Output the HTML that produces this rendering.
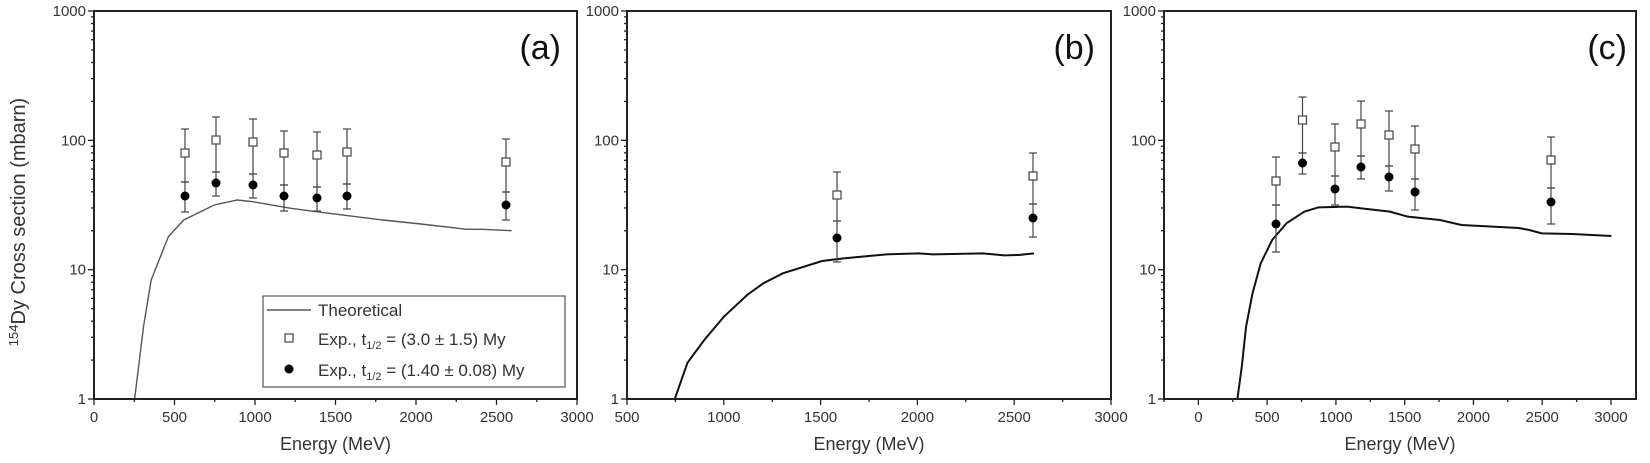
<!DOCTYPE html>
<html><head><meta charset="utf-8"><style>
html,body{margin:0;padding:0;background:#fff;}
svg{display:block;font-family:"Liberation Sans",Arial,sans-serif;}
</style></head><body>
<svg id="s" width="1650" height="463" viewBox="0 0 1650 463" xmlns="http://www.w3.org/2000/svg"></svg>
<script>
const S=document.getElementById('s');let h='';
const Y0=399,DEC=129.33;
function yv(v){return Y0-DEC*Math.log10(v);}
function panel(L,R,xmin,xmax,xt,xminor){
  const sx=v=>L+(v-xmin)/(xmax-xmin)*(R-L);
  h+=`<rect x="${L}" y="11" width="${R-L}" height="${Y0-11}" fill="none" stroke="#222" stroke-width="2"/>`;
  for(let d=0;d<3;d++){for(let m=1;m<10;m++){const y=yv(Math.pow(10,d)*m);
    h+=`<line x1="${L}" x2="${L-(m==1?6:3)}" y1="${y}" y2="${y}" stroke="#222" stroke-width="1.3"/>`;}}
  h+=`<line x1="${L}" x2="${L-6}" y1="11" y2="11" stroke="#222" stroke-width="1.3"/>`;
  [[1,'1'],[10,'10'],[100,'100'],[1000,'1000']].forEach(([v,t])=>{
    h+=`<text x="${L-8}" y="${yv(v)+5}" font-size="15" text-anchor="end" fill="#333">${t}</text>`;});
  xt.forEach(v=>{const x=sx(v);h+=`<line x1="${x}" x2="${x}" y1="${Y0}" y2="${Y0+6}" stroke="#222" stroke-width="1.3"/>`;
    h+=`<text x="${x}" y="${Y0+23}" font-size="15" text-anchor="middle" fill="#333">${v}</text>`;});
  xminor.forEach(v=>{const x=sx(v);h+=`<line x1="${x}" x2="${x}" y1="${Y0}" y2="${Y0+3}" stroke="#222" stroke-width="1.3"/>`;});
  h+=`<text x="${(L+R)/2}" y="450" font-size="18" text-anchor="middle" fill="#333">Energy (MeV)</text>`;
}
function curve(pts,col,w){h+=`<polyline points="${pts.map(p=>p.join(',')).join(' ')}" fill="none" stroke="${col}" stroke-width="${w}"/>`;}
function ebar(x,t,b){h+=`<line x1="${x}" x2="${x}" y1="${t}" y2="${b}" stroke="#444" stroke-width="1.2"/><line x1="${x-4}" x2="${x+4}" y1="${t}" y2="${t}" stroke="#444" stroke-width="1.2"/><line x1="${x-4}" x2="${x+4}" y1="${b}" y2="${b}" stroke="#444" stroke-width="1.2"/>`;}
function pts(x,sq,st,sb,fi,fb){
  ebar(x,st,sb);ebar(x,sb,fb);
  h+=`<rect x="${x-4}" y="${sq-4}" width="8" height="8" fill="#fff" stroke="#444" stroke-width="1.2"/>`;
  h+=`<circle cx="${x}" cy="${fi}" r="4.5" fill="#000"/>`;
}
panel(94,577,0,3000,[0,500,1000,1500,2000,2500,3000],[250,750,1250,1750,2250,2750]);
curve([[352,1195],[375,980],[395,840],[440,710],[480,660],[560,615],[620,600],[660,605],[760,625],[860,640],[1000,660],[1100,672],[1220,688],[1260,688],[1337,692]].map(p=>[p[0]/2.613,p[1]/3]),'#555',1.4);
[[185,153,129,182,196,212],[216,140,117,172,183,196],[253,142,119,174,185,198],[284,153,131,185,196,211],[317,155,132,187,198,211],[347,152,129,184,196,209],[506,162,139,192,205,220]].forEach(a=>pts(...a));
h+=`<rect x="263" y="296" width="302" height="91" fill="#fff" stroke="#555" stroke-width="1.2"/>`;
h+=`<line x1="267" x2="311" y1="310" y2="310" stroke="#555" stroke-width="1.4"/>`;
h+=`<text x="318" y="316" font-size="17" fill="#333">Theoretical</text>`;
h+=`<rect x="285" y="334" width="8" height="8" fill="#fff" stroke="#444" stroke-width="1.2"/>`;
h+=`<text x="318" y="345" font-size="17" fill="#333">Exp., t<tspan font-size="11" dy="4">1/2</tspan><tspan dy="-4"> = (3.0 ± 1.5) My</tspan></text>`;
h+=`<circle cx="289" cy="369" r="4.5" fill="#000"/>`;
h+=`<text x="318" y="376" font-size="17" fill="#333">Exp., t<tspan font-size="11" dy="4">1/2</tspan><tspan dy="-4"> = (1.40 ± 0.08) My</tspan></text>`;
h+=`<text x="561" y="59" font-size="34" text-anchor="end" fill="#111">(a)</text>`;
h+=`<text transform="translate(25,222) rotate(-90)" font-size="20" text-anchor="middle" fill="#333"><tspan font-size="13" dy="-7">154</tspan><tspan dy="7">Dy Cross section (mbarn)</tspan></text>`;
panel(627,1111,500,3000,[500,1000,1500,2000,2500,3000],[750,1250,1750,2250,2750]);
curve([[378,1195],[413,1088],[460,1020],[515,950],[580,885],[625,850],[680,820],[790,783],[850,775],[970,763],[1060,760],[1100,763],[1240,760],[1300,766],[1340,765],[1383,760]].map(p=>[p[0]/2.8+540,p[1]/3]),'#111',2);
[[837,195,172,221,238,262],[1033,176,153,204,218,237]].forEach(a=>pts(...a));
h+=`<text x="1095" y="59" font-size="34" text-anchor="end" fill="#111">(b)</text>`;
panel(1164,1636,-250,3182,[0,500,1000,1500,2000,2500,3000],[-250,250,750,1250,1750,2250,2750]);
curve([[413,1195],[425,1100],[437,980],[455,880],[478,790],[510,720],[550,670],[600,635],[640,622],[720,620],[760,625],[840,635],[890,650],[980,660],[1040,675],[1200,684],[1230,690],[1265,700],[1350,702],[1460,708]].map(p=>[p[0]/2.8+1090,p[1]/3]),'#111',2);
[[1276,181,157,205,224,252],[1302.5,120,97,153,163,174],[1335,147,124,176,189,205],[1361,124,101,156,167,179],[1389,135,111,166,177,191],[1415,149,126,179,192,210],[1551,160,137,188,202,224]].forEach(a=>pts(...a));
h+=`<text x="1627" y="59" font-size="34" text-anchor="end" fill="#111">(c)</text>`;
S.innerHTML=h;
</script>
</body></html>
